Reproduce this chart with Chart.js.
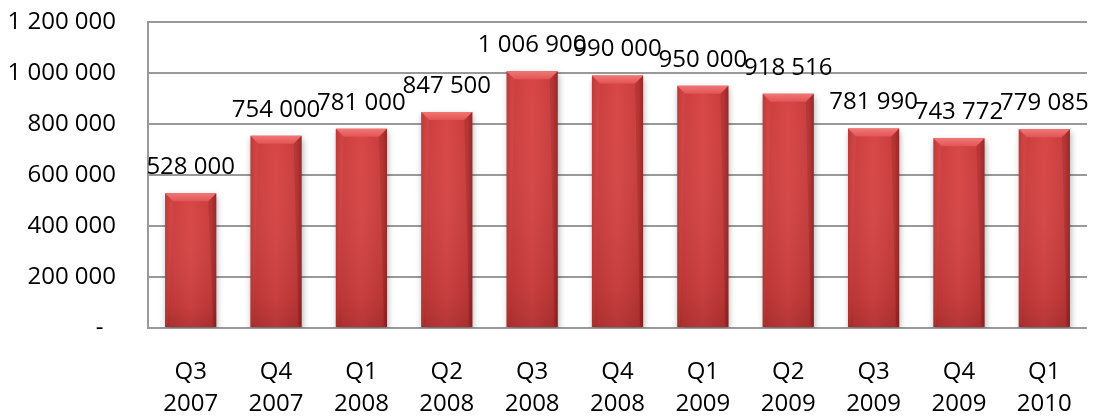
<!DOCTYPE html>
<html><head><meta charset="utf-8">
<script src="https://cdn.jsdelivr.net/npm/chart.js@4"></script>
<style>html,body{margin:0;padding:0;background:#fff}#w{width:1096px;height:416px}</style>
</head>
<body><div id="w"><canvas id="c" width="1096" height="416"></canvas></div>
<script>
const quarters = ['Q3','Q4','Q1','Q2','Q3','Q4','Q1','Q2','Q3','Q4','Q1'];
const years = ['2007','2007','2008','2008','2008','2008','2009','2009','2009','2009','2010'];
const values = [528000, 754000, 781000, 847500, 1006900, 990000, 950000, 918516, 781990, 743772, 779085];
const yTicks = [0, 200000, 400000, 600000, 800000, 1000000, 1200000];

const labels = quarters.map((q, i) => [q, years[i]]);
const FONT = '"Open Sans", sans-serif';
function fmt(v) {
  if (v === 0) return '-  ';
  return String(Math.round(v)).replace(/\B(?=(\d{3})+(?!\d))/g, ' ');
}

const barStyle = {
  id: 'barStyle',
  beforeDatasetsDraw(chart) {
    const ctx = chart.ctx;
    const meta = chart.getDatasetMeta(0);
    meta.data.forEach(bar => {
      const l = bar.x - bar.width / 2, r = bar.x + bar.width / 2;
      const g = ctx.createLinearGradient(l, 0, r, 0);
      g.addColorStop(0, '#b43333');
      g.addColorStop(0.1, '#cb3d3d');
      g.addColorStop(0.5, '#d84646');
      g.addColorStop(0.9, '#c83c3c');
      g.addColorStop(1, '#a52c2c');
      bar.options.backgroundColor = g;
    });
    ctx.save();
    ctx.shadowColor = 'rgba(0,0,0,0.3)';
    ctx.shadowBlur = 6;
    ctx.shadowOffsetX = 1;
    ctx.shadowOffsetY = 3;
  },
  afterDatasetsDraw(chart) {
    const ctx = chart.ctx;
    ctx.restore();
    const meta = chart.getDatasetMeta(0);
    const ds = chart.data.datasets[0];
    meta.data.forEach((bar, i) => {
      const l = bar.x - bar.width / 2, r = bar.x + bar.width / 2;
      const top = bar.y, bot = bar.base;
      ctx.save();
      const vg = ctx.createLinearGradient(0, top, 0, bot);
      vg.addColorStop(0, 'rgba(255,255,255,0)');
      vg.addColorStop(0.85, 'rgba(60,0,0,0.10)');
      vg.addColorStop(1, 'rgba(60,0,0,0.22)');
      ctx.fillStyle = vg;
      ctx.fillRect(l, top, r - l, bot - top);
      const bev = 8;
      ctx.beginPath();
      ctx.moveTo(l, top); ctx.lineTo(r, top);
      ctx.lineTo(r - bev, top + bev); ctx.lineTo(l + bev, top + bev);
      ctx.closePath();
      const tg = ctx.createLinearGradient(0, top, 0, top + bev);
      tg.addColorStop(0, '#f27676');
      tg.addColorStop(1, '#e25454');
      ctx.fillStyle = tg;
      ctx.fill();
      ctx.beginPath();
      ctx.moveTo(r, top); ctx.lineTo(r - bev, top + bev); ctx.lineTo(r - 3, bot - 3); ctx.lineTo(r, bot); ctx.closePath();
      ctx.fillStyle = 'rgba(80,10,10,0.15)';
      ctx.fill();
      ctx.beginPath();
      ctx.moveTo(l, top); ctx.lineTo(l + bev, top + bev); ctx.lineTo(l + 3, bot - 3); ctx.lineTo(l, bot); ctx.closePath();
      ctx.fillStyle = 'rgba(255,120,120,0.10)';
      ctx.fill();
      ctx.restore();
      ctx.save();
      ctx.font = '24px ' + FONT;
      ctx.fillStyle = '#000';
      ctx.textAlign = 'center';
      ctx.textBaseline = 'middle';
      ctx.fillText(fmt(ds.data[i]), bar.x, top - 26);
      ctx.restore();
    });
  }
};

new Chart(document.getElementById('c'), {
  type: 'bar',
  data: {
    labels: labels,
    datasets: [{
      data: values,
      backgroundColor: () => '#d04040',
      borderWidth: 0,
      barPercentage: 0.6,
      categoryPercentage: 1.0
    }]
  },
  options: {
    responsive: false,
    animation: false,
    layout: { padding: { top: 22, right: 9, left: 0, bottom: 0 } },
    plugins: { legend: { display: false }, tooltip: { enabled: false } },
    scales: {
      x: {
        grid: { display: false },
        border: { display: false },
        ticks: { color: '#000', font: { family: FONT, size: 24, lineHeight: 1.3 }, padding: 21, maxRotation: 0, autoSkip: false },
        afterFit(s) { s.height = 88; }
      },
      y: {
        min: 0, max: 1200000,
        afterBuildTicks(s) { s.ticks = yTicks.map(v => ({ value: v })); },
        grid: { color: '#999999', lineWidth: 2, drawTicks: false },
        border: { display: true, color: '#999999', width: 2 },
        ticks: { color: '#000', font: { family: FONT, size: 24 }, padding: 32, callback: v => fmt(v) },
        afterFit(s) { s.width = 148; s.paddingTop = 0; s.paddingBottom = 0; }
      }
    }
  },
  plugins: [barStyle]
});
</script>
</body></html>
